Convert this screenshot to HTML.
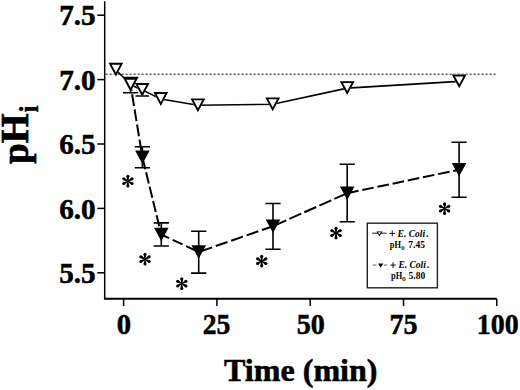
<!DOCTYPE html>
<html><head><meta charset="utf-8"><style>
html,body{margin:0;padding:0;background:#fff;}
svg{display:block;}
text{font-family:"Liberation Serif",serif;font-weight:bold;fill:#000;}
.ax{fill:none;stroke:#000;stroke-width:1.5;}
.tk{fill:none;stroke:#000;stroke-width:1.5;}
.yl{font-size:29.2px;text-anchor:end;stroke:#000;stroke-width:0.5px;}
.xl{font-size:29.6px;text-anchor:middle;stroke:#000;stroke-width:0.5px;}
.dot{fill:none;stroke:#1a1a1a;stroke-width:1.0;stroke-dasharray:2.2 1.8;}
.dash{fill:none;stroke:#000;stroke-width:2;}
.sol{fill:none;stroke:#000;stroke-width:1.6;}
.eb{fill:none;stroke:#000;stroke-width:1.6;}
.tf{fill:#000;}
.tw{fill:#fff;}
.ast{fill:#000;}
.leg{font-size:9.5px;}
.it{font-style:italic;}
.sub{font-size:7.5px;fill:#333;}
</style></head><body>
<svg width="520" height="390" viewBox="0 0 520 390">
<path d="M104.7,1.3V298.7" class="ax"/>
<path d="M103.95,298.8H496.8" class="ax" style="stroke-width:1.9"/>
<path d="M97.3,15.20H104.7" class="tk"/>
<text x="95.7" y="25.30" class="yl">7.5</text>
<path d="M97.3,79.60H104.7" class="tk"/>
<text x="95.7" y="89.70" class="yl">7.0</text>
<path d="M97.3,144.00H104.7" class="tk"/>
<text x="95.7" y="154.10" class="yl">6.5</text>
<path d="M97.3,208.40H104.7" class="tk"/>
<text x="95.7" y="218.50" class="yl">6.0</text>
<path d="M97.3,272.80H104.7" class="tk"/>
<text x="95.7" y="282.90" class="yl">5.5</text>
<path d="M123.60,298.7V306" class="tk"/>
<text transform="translate(124.00,334.3) scale(0.97,1)" class="xl">0</text>
<path d="M216.90,298.7V306" class="tk"/>
<text transform="translate(216.60,334.3) scale(0.935,1)" class="xl">25</text>
<path d="M310.20,298.7V306" class="tk"/>
<text transform="translate(310.75,334.3) scale(0.95,1)" class="xl">50</text>
<path d="M403.50,298.7V306" class="tk"/>
<text transform="translate(403.60,334.3) scale(0.95,1)" class="xl">75</text>
<path d="M496.80,298.7V306" class="tk"/>
<text transform="translate(497.70,334.3) scale(0.945,1)" class="xl">100</text>
<path d="M105.5,74.2H496.8" class="dot"/>
<path d="M130.60,85.10L142.40,157.30" class="dash" stroke-dasharray="11.9 3.4" stroke-dashoffset="6.0"/>
<path d="M142.40,157.30L161.30,234.50" class="dash" stroke-dasharray="11.4 3.3" stroke-dashoffset="13.9"/>
<path d="M161.30,234.50L198.70,252.00" class="dash" stroke-dasharray="11.0 4.0" stroke-dashoffset="2.5"/>
<path d="M198.70,252.00L273.00,226.20" class="dash" stroke-dasharray="12.4 3.9" stroke-dashoffset="14.5"/>
<path d="M273.00,226.20L347.20,193.20" class="dash" stroke-dasharray="13.0 3.4" stroke-dashoffset="14.9"/>
<path d="M347.20,193.20L459.10,169.70" class="dash" stroke-dasharray="11.7 3.8" stroke-dashoffset="0.1"/>
<path d="M130.60,77.50V92.80M123.00,77.50H138.20M123.00,92.80H138.20" class="eb"/>
<path d="M142.40,146.70V167.70M134.80,146.70H150.00M134.80,167.70H150.00" class="eb"/>
<path d="M161.30,222.90V246.00M153.70,222.90H168.90M153.70,246.00H168.90" class="eb"/>
<path d="M198.70,231.20V273.10M191.10,231.20H206.30M191.10,273.10H206.30" class="eb"/>
<path d="M273.00,203.50V249.20M265.40,203.50H280.60M265.40,249.20H280.60" class="eb"/>
<path d="M347.20,164.20V221.70M339.60,164.20H354.80M339.60,221.70H354.80" class="eb"/>
<path d="M459.10,142.30V197.30M451.50,142.30H466.70M451.50,197.30H466.70" class="eb"/>
<path d="M135.10,150.50 L149.70,150.50 L142.40,164.10Z" class="tf"/>
<path d="M154.00,227.70 L168.60,227.70 L161.30,241.30Z" class="tf"/>
<path d="M191.40,245.20 L206.00,245.20 L198.70,258.80Z" class="tf"/>
<path d="M265.70,219.40 L280.30,219.40 L273.00,233.00Z" class="tf"/>
<path d="M339.90,186.40 L354.50,186.40 L347.20,200.00Z" class="tf"/>
<path d="M451.80,162.90 L466.40,162.90 L459.10,176.50Z" class="tf"/>
<path d="M115.85,69.70 L130.60,84.80 L142.20,89.90 L160.80,99.00 L197.90,105.30 L272.70,104.30 L347.20,88.10 L459.20,81.40" class="sol"/>
<path d="M135.5,96.0H149.0M142.2,90V96" class="eb"/>
<path d="M108.45,62.80 L123.25,62.80 L115.85,76.60Z" class="tw"/>
<path d="M123.20,77.90 L138.00,77.90 L130.60,91.70Z" class="tw"/>
<path d="M134.80,83.00 L149.60,83.00 L142.20,96.80Z" class="tw"/>
<path d="M153.40,92.10 L168.20,92.10 L160.80,105.90Z" class="tw"/>
<path d="M190.50,98.40 L205.30,98.40 L197.90,112.20Z" class="tw"/>
<path d="M265.30,97.40 L280.10,97.40 L272.70,111.20Z" class="tw"/>
<path d="M339.80,81.20 L354.60,81.20 L347.20,95.00Z" class="tw"/>
<path d="M451.80,74.50 L466.60,74.50 L459.20,88.30Z" class="tw"/>
<path d="M108.45,62.80 L123.25,62.80 L115.85,76.60Z M111.62,64.70 L120.08,64.70 L115.85,72.58Z" class="tf" fill-rule="evenodd"/>
<path d="M123.20,77.90 L138.00,77.90 L130.60,91.70Z M126.37,79.80 L134.83,79.80 L130.60,87.68Z" class="tf" fill-rule="evenodd"/>
<path d="M134.80,83.00 L149.60,83.00 L142.20,96.80Z M137.97,84.90 L146.43,84.90 L142.20,92.78Z" class="tf" fill-rule="evenodd"/>
<path d="M153.40,92.10 L168.20,92.10 L160.80,105.90Z M156.57,94.00 L165.03,94.00 L160.80,101.88Z" class="tf" fill-rule="evenodd"/>
<path d="M190.50,98.40 L205.30,98.40 L197.90,112.20Z M193.67,100.30 L202.13,100.30 L197.90,108.18Z" class="tf" fill-rule="evenodd"/>
<path d="M265.30,97.40 L280.10,97.40 L272.70,111.20Z M268.47,99.30 L276.93,99.30 L272.70,107.18Z" class="tf" fill-rule="evenodd"/>
<path d="M339.80,81.20 L354.60,81.20 L347.20,95.00Z M342.97,83.10 L351.43,83.10 L347.20,90.98Z" class="tf" fill-rule="evenodd"/>
<path d="M451.80,74.50 L466.60,74.50 L459.20,88.30Z M454.97,76.40 L463.43,76.40 L459.20,84.28Z" class="tf" fill-rule="evenodd"/>
<g class="ast"><path d="M127.40,181.20 L126.55,176.35 L129.25,176.35 L128.40,181.20Z"/><circle cx="127.90" cy="176.35" r="1.5"/><path d="M127.65,180.77 L131.43,177.61 L132.78,179.94 L128.15,181.63Z"/><circle cx="132.10" cy="178.77" r="1.5"/><path d="M128.15,180.77 L132.78,182.46 L131.43,184.79 L127.65,181.63Z"/><circle cx="132.10" cy="183.62" r="1.5"/><path d="M128.40,181.20 L129.25,186.05 L126.55,186.05 L127.40,181.20Z"/><circle cx="127.90" cy="186.05" r="1.5"/><path d="M127.65,181.63 L123.02,179.94 L124.37,177.61 L128.15,180.77Z"/><circle cx="123.70" cy="178.77" r="1.5"/><path d="M128.15,181.63 L124.37,184.79 L123.02,182.46 L127.65,180.77Z"/><circle cx="123.70" cy="183.62" r="1.5"/><circle cx="127.90" cy="181.20" r="0.9"/></g>
<g class="ast"><path d="M144.50,259.20 L143.65,254.35 L146.35,254.35 L145.50,259.20Z"/><circle cx="145.00" cy="254.35" r="1.5"/><path d="M144.75,258.77 L148.53,255.61 L149.88,257.94 L145.25,259.63Z"/><circle cx="149.20" cy="256.77" r="1.5"/><path d="M145.25,258.77 L149.88,260.46 L148.53,262.79 L144.75,259.63Z"/><circle cx="149.20" cy="261.62" r="1.5"/><path d="M145.50,259.20 L146.35,264.05 L143.65,264.05 L144.50,259.20Z"/><circle cx="145.00" cy="264.05" r="1.5"/><path d="M144.75,259.63 L140.12,257.94 L141.47,255.61 L145.25,258.77Z"/><circle cx="140.80" cy="256.77" r="1.5"/><path d="M145.25,259.63 L141.47,262.79 L140.12,260.46 L144.75,258.77Z"/><circle cx="140.80" cy="261.62" r="1.5"/><circle cx="145.00" cy="259.20" r="0.9"/></g>
<g class="ast"><path d="M181.30,283.60 L180.45,278.75 L183.15,278.75 L182.30,283.60Z"/><circle cx="181.80" cy="278.75" r="1.5"/><path d="M181.55,283.17 L185.33,280.01 L186.68,282.34 L182.05,284.03Z"/><circle cx="186.00" cy="281.18" r="1.5"/><path d="M182.05,283.17 L186.68,284.86 L185.33,287.19 L181.55,284.03Z"/><circle cx="186.00" cy="286.03" r="1.5"/><path d="M182.30,283.60 L183.15,288.45 L180.45,288.45 L181.30,283.60Z"/><circle cx="181.80" cy="288.45" r="1.5"/><path d="M181.55,284.03 L176.92,282.34 L178.27,280.01 L182.05,283.17Z"/><circle cx="177.60" cy="281.18" r="1.5"/><path d="M182.05,284.03 L178.27,287.19 L176.92,284.86 L181.55,283.17Z"/><circle cx="177.60" cy="286.03" r="1.5"/><circle cx="181.80" cy="283.60" r="0.9"/></g>
<g class="ast"><path d="M261.20,261.20 L260.35,256.35 L263.05,256.35 L262.20,261.20Z"/><circle cx="261.70" cy="256.35" r="1.5"/><path d="M261.45,260.77 L265.23,257.61 L266.58,259.94 L261.95,261.63Z"/><circle cx="265.90" cy="258.77" r="1.5"/><path d="M261.95,260.77 L266.58,262.46 L265.23,264.79 L261.45,261.63Z"/><circle cx="265.90" cy="263.62" r="1.5"/><path d="M262.20,261.20 L263.05,266.05 L260.35,266.05 L261.20,261.20Z"/><circle cx="261.70" cy="266.05" r="1.5"/><path d="M261.45,261.63 L256.82,259.94 L258.17,257.61 L261.95,260.77Z"/><circle cx="257.50" cy="258.77" r="1.5"/><path d="M261.95,261.63 L258.17,264.79 L256.82,262.46 L261.45,260.77Z"/><circle cx="257.50" cy="263.62" r="1.5"/><circle cx="261.70" cy="261.20" r="0.9"/></g>
<g class="ast"><path d="M335.50,233.00 L334.65,228.15 L337.35,228.15 L336.50,233.00Z"/><circle cx="336.00" cy="228.15" r="1.5"/><path d="M335.75,232.57 L339.53,229.41 L340.88,231.74 L336.25,233.43Z"/><circle cx="340.20" cy="230.57" r="1.5"/><path d="M336.25,232.57 L340.88,234.26 L339.53,236.59 L335.75,233.43Z"/><circle cx="340.20" cy="235.43" r="1.5"/><path d="M336.50,233.00 L337.35,237.85 L334.65,237.85 L335.50,233.00Z"/><circle cx="336.00" cy="237.85" r="1.5"/><path d="M335.75,233.43 L331.12,231.74 L332.47,229.41 L336.25,232.57Z"/><circle cx="331.80" cy="230.57" r="1.5"/><path d="M336.25,233.43 L332.47,236.59 L331.12,234.26 L335.75,232.57Z"/><circle cx="331.80" cy="235.43" r="1.5"/><circle cx="336.00" cy="233.00" r="0.9"/></g>
<g class="ast"><path d="M444.10,208.60 L443.25,203.75 L445.95,203.75 L445.10,208.60Z"/><circle cx="444.60" cy="203.75" r="1.5"/><path d="M444.35,208.17 L448.13,205.01 L449.48,207.34 L444.85,209.03Z"/><circle cx="448.80" cy="206.17" r="1.5"/><path d="M444.85,208.17 L449.48,209.86 L448.13,212.19 L444.35,209.03Z"/><circle cx="448.80" cy="211.03" r="1.5"/><path d="M445.10,208.60 L445.95,213.45 L443.25,213.45 L444.10,208.60Z"/><circle cx="444.60" cy="213.45" r="1.5"/><path d="M444.35,209.03 L439.72,207.34 L441.07,205.01 L444.85,208.17Z"/><circle cx="440.40" cy="206.17" r="1.5"/><path d="M444.85,209.03 L441.07,212.19 L439.72,209.86 L444.35,208.17Z"/><circle cx="440.40" cy="211.03" r="1.5"/><circle cx="444.60" cy="208.60" r="0.9"/></g>
<rect x="367.3" y="223.2" width="70.1" height="64.6" fill="none" stroke="#222" stroke-width="1.4"/>
<path d="M372.2,233.2H386.6" stroke="#111" stroke-width="0.95" fill="none"/>
<path d="M376.50,231.40 L382.50,231.40 L379.50,236.20Z" class="tf"/><path d="M378.03,232.25 L380.97,232.25 L379.50,234.60Z" class="tw"/>
<path d="M389.3,233.4H395.2M392.25,230.5V236.3" stroke="#111" stroke-width="1.0" fill="none"/>
<text x="397.6" y="236.5" class="leg it">E. Coli</text>
<text x="426.0" y="236.5" class="leg">.</text>
<text x="389.8" y="247.6" class="leg" textLength="11.2" lengthAdjust="spacingAndGlyphs">pH</text>
<text x="401.0" y="249.8" class="leg sub">o</text>
<text x="408.3" y="247.6" class="leg">7.45</text>
<path d="M372.6,265H376.6M383.8,265H387.4" stroke="#666" stroke-width="1.0" fill="none"/>
<path d="M378.10,263.50 L383.30,263.50 L380.70,267.70Z" class="tf"/>
<path d="M390.3,265.1H395.8M393.05,262.3V268.0" stroke="#111" stroke-width="1.0" fill="none"/>
<text x="398.4" y="268.1" class="leg it">E. Coli</text>
<text x="426.8" y="268.1" class="leg">.</text>
<text x="391.0" y="278.8" class="leg" textLength="11.2" lengthAdjust="spacingAndGlyphs">pH</text>
<text x="402.0" y="281.0" class="leg sub">o</text>
<text x="408.6" y="278.8" class="leg">5.80</text>
<text transform="translate(28.4,163.7) rotate(-90) scale(0.99,1)" style="font-size:37px;stroke:#000;stroke-width:0.7px">p</text>
<text transform="translate(27.8,143.27) rotate(-90) scale(0.95,1)" style="font-size:40.5px;stroke:#000;stroke-width:0.7px">H</text>
<text transform="translate(38.1,112.6) rotate(-90) scale(0.93,1)" style="font-size:27.5px;stroke:#000;stroke-width:0.4px">i</text>
<text x="224.0" y="381.0" style="font-size:32.1px;stroke:#000;stroke-width:0.55px">Time (min)</text>
</svg>
</body></html>
